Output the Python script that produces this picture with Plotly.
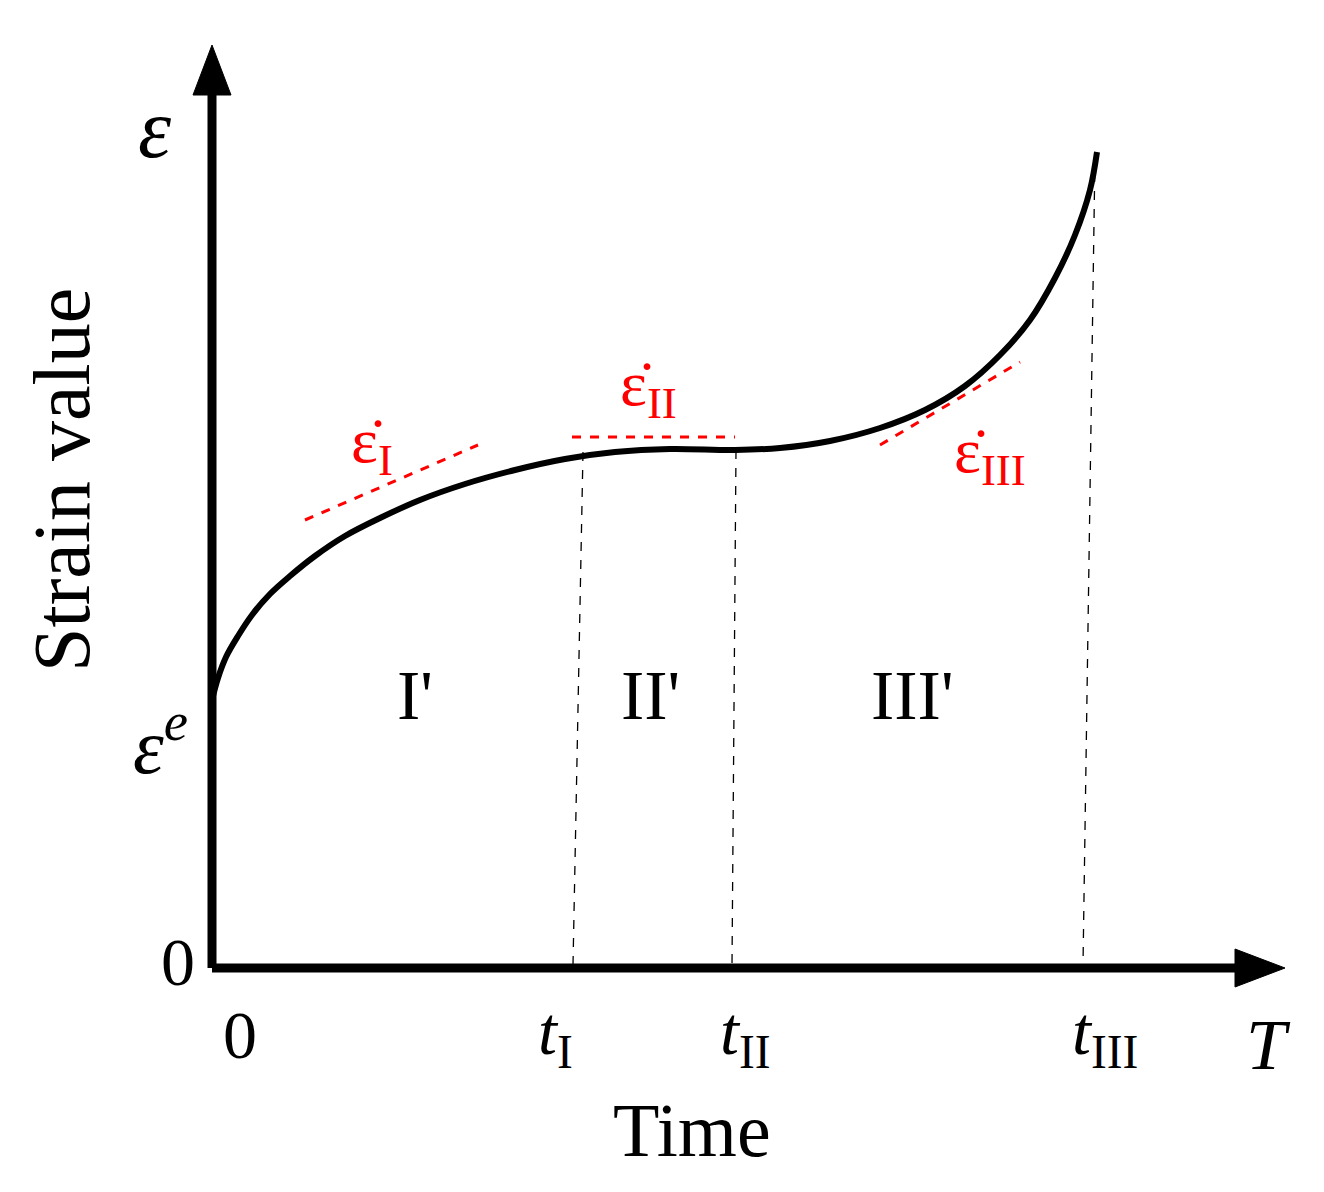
import plotly.graph_objects as go

# reference-frame origin (pixel) ; data = pixel offsets from axis origin
OX, OY = 212, 968
curve_px = [(212,700),(218,678),(226,657),(238,636),(252,615),(270,594),(290,576),(315,556),(345,536),(380,518),(420,500),(465,484),(515,470),(565,459),(615,452),(670,449),(735,450),(780,448),(830,441),(880,428),(925,410),(965,386),(1000,355),(1030,320),(1055,278),(1075,235),(1090,190),(1097,152)]
curve_x = [p[0]-OX for p in curve_px]
curve_y = [OY-p[1] for p in curve_px]

vlines = [((583,452),(573,965)),((736,450),(732,965)),((1095,155),(1083,965))]
tangents = [((305,520),(478,445)),((572,437),(735,437)),((880,445),(1020,362))]

def X(p): return p-OX
def Y(p): return OY-p

fig = go.Figure()
fig.add_trace(go.Scatter(x=curve_x, y=curve_y, mode="lines", line=dict(color="black", width=6, shape="spline"), hoverinfo="skip"))
for a,b in vlines:
    fig.add_trace(go.Scatter(x=[X(a[0]),X(b[0])], y=[Y(a[1]),Y(b[1])], mode="lines", line=dict(color="black", width=1.3, dash="dash")))
for a,b in tangents:
    fig.add_trace(go.Scatter(x=[X(a[0]),X(b[0])], y=[Y(a[1]),Y(b[1])], mode="lines", line=dict(color="red", width=3, dash="dash")))

# axes with arrows
fig.add_trace(go.Scatter(x=[0,0], y=[0,Y(80)], mode="lines", line=dict(color="black", width=9)))
fig.add_trace(go.Scatter(x=[0,X(1250)], y=[0,0], mode="lines", line=dict(color="black", width=9)))
fig.add_trace(go.Scatter(x=[X(193),X(212),X(231),X(193)], y=[Y(95),Y(45),Y(95),Y(95)], mode="lines", fill="toself", fillcolor="black", line=dict(color="black", width=1)))
fig.add_trace(go.Scatter(x=[X(1235),X(1285),X(1235),X(1235)], y=[Y(949),Y(968),Y(987),Y(949)], mode="lines", fill="toself", fillcolor="black", line=dict(color="black", width=1)))

F = "Liberation Serif"
labels = [
    (155,128,"<i>ε</i>",84,"black",0),
    (160,740,"<i>ε</i><sup><i>e</i></sup>",78,"black",0),
    (178,962,"0",68,"black",0),
    (240,1035,"0",68,"black",0),
    (555,1035,"<i>t</i><sub>I</sub>",68,"black",0),
    (745,1035,"<i>t</i><sub>II</sub>",68,"black",0),
    (1105,1035,"<i>t</i><sub>III</sub>",68,"black",0),
    (1268,1045,"<i>T</i>",72,"black",0),
    (692,1130,"Time",76,"black",0),
    (62,480,"Strain value",80,"black",-90),
    (415,695,"I'",70,"black",0),
    (650,695,"II'",70,"black",0),
    (912,695,"III'",70,"black",0),
    (372,445,"ε̇<sub>I</sub>",64,"red",0),
    (648,388,"ε̇<sub>II</sub>",64,"red",0),
    (990,455,"ε̇<sub>III</sub>",64,"red",0),
]
for px,py,t,s,c,ang in labels:
    fig.add_annotation(x=X(px), y=Y(py), text=t, showarrow=False, textangle=ang,
                       font=dict(family=F, size=s, color=c), xanchor="center", yanchor="middle")

SH = 8  # page body margin compensation
fig.update_layout(width=1324, height=1192, margin=dict(l=0,r=0,t=0,b=0),
                  paper_bgcolor="white", plot_bgcolor="white", showlegend=False,
                  xaxis=dict(range=[-OX+SH, 1324-OX+SH], visible=False, fixedrange=True),
                  yaxis=dict(range=[OY-1192-SH, OY-SH], visible=False, fixedrange=True))
fig.write_html("out.html")
